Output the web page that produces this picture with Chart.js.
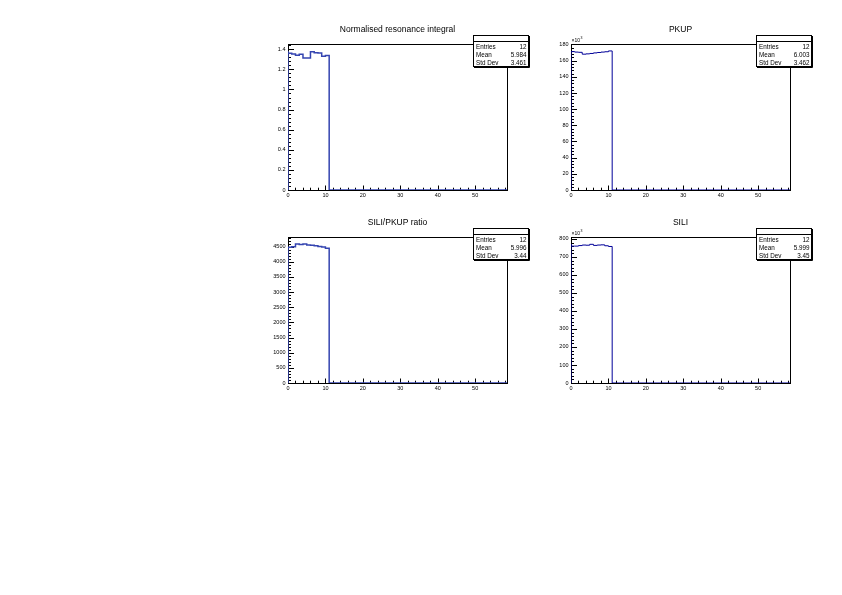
<!DOCTYPE html>
<html>
<head>
<meta charset="utf-8">
<script src="https://cdn.jsdelivr.net/npm/chart.js@4.4.1/dist/chart.umd.min.js"></script>
<style>
  html, body { margin: 0; padding: 0; background: #fff; }
  body { width: 842px; height: 595px; position: relative; overflow: hidden; }
  canvas { position: absolute; }
</style>
</head>
<body>
<canvas id="pad1" width="274" height="184" style="left:258px;top:20px"></canvas>
<canvas id="pad2" width="274" height="184" style="left:541px;top:20px"></canvas>
<canvas id="pad3" width="274" height="184" style="left:258px;top:213px"></canvas>
<canvas id="pad4" width="274" height="184" style="left:541px;top:213px"></canvas>
<script>
// bin edges of the filled bins (12 bins of width 1)
const binEdges = [0, 1, 2, 3, 4, 5, 6, 7, 8, 9, 10, 11, 12];
const xMax = 58.5;
const xLabels = [0, 10, 20, 30, 40, 50];

// bin contents
const resonance = [1.383, 1.360, 1.352, 1.341, 1.350, 1.314, 1.314, 1.376, 1.366, 1.362, 1.330, 1.338];
const pkup = [171400, 171200, 170600, 170300, 168000, 168400, 168900, 169600, 170100, 170600, 171000, 172000];
const ratio = [4500, 4478, 4500, 4585, 4570, 4590, 4554, 4550, 4532, 4510, 4490, 4445];
const sili = [772000, 760000, 760000, 763000, 766000, 765000, 770000, 764000, 766000, 767000, 762000, 758000];

const titles = ['Normalised resonance integral', 'PKUP', 'SILI/PKUP ratio', 'SILI'];
const statEntries = ['12', '12', '12', '12'];
const statMean = ['5.984', '6.003', '5.996', '5.999'];
const statStd = ['3.461', '3.462', '3.44', '3.45'];

// y axis labels per pad, minor step and label divisor
const yLabels1 = [0, 0.2, 0.4, 0.6, 0.8, 1, 1.2, 1.4];
const yLabels2 = [0, 20000, 40000, 60000, 80000, 100000, 120000, 140000, 160000, 180000];
const yLabels3 = [0, 500, 1000, 1500, 2000, 2500, 3000, 3500, 4000, 4500];
const yLabels4 = [0, 100000, 200000, 300000, 400000, 500000, 600000, 700000, 800000];
const yLabelSets = [yLabels1, yLabels2, yLabels3, yLabels4];
const yMinor = [0.04, 4000, 100, 20000];
const yDivisor = [1, 1000, 1, 1000];

const FONT = 'Liberation Sans, Arial, Helvetica, sans-serif';

function histPoints(values) {
    var pts = [{x: binEdges[0], y: 0}];
    values.forEach(function(v, i) { pts.push({x: binEdges[i], y: v}); });
    pts.push({x: binEdges[values.length], y: 0});
    pts.push({x: xMax, y: 0});
    return pts;
}

const rootPad = {
    id: 'rootPad',
    beforeDatasetsDraw: function(chart) {
        const ctx = chart.ctx, a = chart.chartArea;
        const o = chart.options.plugins.rootPad;
        const xs = chart.scales.x, ys = chart.scales.y;
        ctx.save();
        ctx.strokeStyle = '#000';
        ctx.lineWidth = 1;
        ctx.strokeRect(Math.round(a.left) + 0.5, Math.round(a.top) + 0.5,
                       Math.round(a.right - a.left), Math.round(a.bottom - a.top));
        ctx.beginPath();
        // x ticks, pointing up into the frame
        for (var v = 0; v <= xMax + 1e-9; v += 2) {
            var px = Math.round(xs.getPixelForValue(v)) + 0.5;
            var len = (v % 10 === 0) ? 4.5 : 2.3;
            ctx.moveTo(px, a.bottom);
            ctx.lineTo(px, a.bottom - len);
        }
        // y ticks, pointing right into the frame
        var n = Math.floor(ys.max / o.minor + 1e-6);
        var per = Math.round((o.labels[1] - o.labels[0]) / o.minor);
        for (var k = 0; k <= n; k++) {
            var py = Math.round(ys.getPixelForValue(k * o.minor)) + 0.5;
            var l2 = (k % per === 0) ? 6 : 3;
            ctx.moveTo(a.left, py);
            ctx.lineTo(a.left + l2, py);
        }
        ctx.stroke();
        ctx.restore();
    },
    afterDraw: function(chart) {
        const ctx = chart.ctx, a = chart.chartArea;
        const o = chart.options.plugins.rootPad;
        ctx.save();
        ctx.fillStyle = '#000';
        // title
        ctx.font = '8.5px ' + FONT;
        ctx.textAlign = 'center';
        ctx.textBaseline = 'middle';
        ctx.fillText(o.title, (a.left + a.right) / 2, a.top - 14.5);
        // x10^3 exponent
        if (o.divisor === 1000) {
            ctx.textAlign = 'left';
            ctx.font = '5px ' + FONT;
            ctx.fillText('\u00d710', a.left + 0.5, a.top - 3.5);
            ctx.font = '3.5px ' + FONT;
            ctx.fillText('3', a.left + 9.5, a.top - 6);
        }
        // stats box
        var bx1 = Math.round(a.right) + 21, bx0 = bx1 - 55;
        var by0 = Math.round(a.top) - 9, by1 = by0 + 31;
        ctx.fillStyle = '#fff';
        ctx.fillRect(bx0, by0, bx1 - bx0, by1 - by0);
        ctx.strokeStyle = '#000';
        ctx.lineWidth = 1;
        ctx.strokeRect(bx0 + 0.5, by0 + 0.5, bx1 - bx0, by1 - by0);
        ctx.beginPath();
        ctx.moveTo(bx0, by0 + 6.5); ctx.lineTo(bx1, by0 + 6.5);
        ctx.moveTo(bx1 + 1.5, by0 + 1); ctx.lineTo(bx1 + 1.5, by1 + 1.5);
        ctx.moveTo(bx0 + 1, by1 + 1.5); ctx.lineTo(bx1 + 1.5, by1 + 1.5);
        ctx.stroke();
        ctx.fillStyle = '#000';
        ctx.font = '6.3px ' + FONT;
        ctx.textBaseline = 'middle';
        var rows = [['Entries', o.entries], ['Mean', o.mean], ['Std Dev', o.std]];
        rows.forEach(function(r, i) {
            var y = by0 + 12 + i * 8;
            ctx.textAlign = 'left';
            ctx.fillText(r[0], bx0 + 3, y);
            ctx.textAlign = 'right';
            ctx.fillText(r[1], bx1 - 1.5, y);
        });
        ctx.restore();
    }
};

const seriesList = [resonance, pkup, ratio, sili];
const lineColors = ['#3444b0', '#000099', '#3444b0', '#000099'];
const lineWidths = [1.5, 1, 1.5, 1];

seriesList.forEach(function(values, i) {
    const ctx = document.getElementById('pad' + (i + 1)).getContext('2d');
    const yTop = 1.05 * Math.max.apply(null, values);
    const div = yDivisor[i];
    const labels = yLabelSets[i];
    const graphData = {
        type: 'line',
        data: {
            datasets: [{
                data: histPoints(values),
                stepped: 'after',
                borderColor: lineColors[i],
                borderWidth: lineWidths[i],
                pointRadius: 0,
                fill: false
            }]
        },
        options: {
            responsive: false,
            animation: false,
            devicePixelRatio: 1,
            layout: {padding: {left: 0, top: 24, right: 25, bottom: 0}},
            plugins: {
                legend: {display: false},
                tooltip: {enabled: false},
                rootPad: {
                    title: titles[i],
                    entries: statEntries[i],
                    mean: statMean[i],
                    std: statStd[i],
                    labels: labels,
                    minor: yMinor[i],
                    divisor: div
                }
            },
            scales: {
                x: {
                    type: 'linear',
                    min: 0,
                    max: xMax,
                    grid: {display: false, drawTicks: false},
                    border: {display: false},
                    afterBuildTicks: function(s) {
                        s.ticks = xLabels.map(function(v) { return {value: v}; });
                    },
                    ticks: {
                        maxRotation: 0,
                        autoSkip: false,
                        padding: 2,
                        color: '#000',
                        font: {family: FONT, size: 5.5},
                        callback: function(v) { return String(v); }
                    },
                    afterFit: function(s) { s.height = 14; }
                },
                y: {
                    type: 'linear',
                    min: 0,
                    max: yTop,
                    grid: {display: false, drawTicks: false},
                    border: {display: false},
                    afterBuildTicks: function(s) {
                        s.ticks = labels.map(function(v) { return {value: v}; });
                    },
                    ticks: {
                        autoSkip: false,
                        padding: 2.5,
                        color: '#000',
                        font: {family: FONT, size: 5.5},
                        callback: function(v) { return String(+(v / div).toFixed(2)); }
                    },
                    afterFit: function(s) { s.width = 30; }
                }
            }
        },
        plugins: [rootPad]
    };
    new Chart(ctx, graphData);
});
</script>
</body>
</html>
